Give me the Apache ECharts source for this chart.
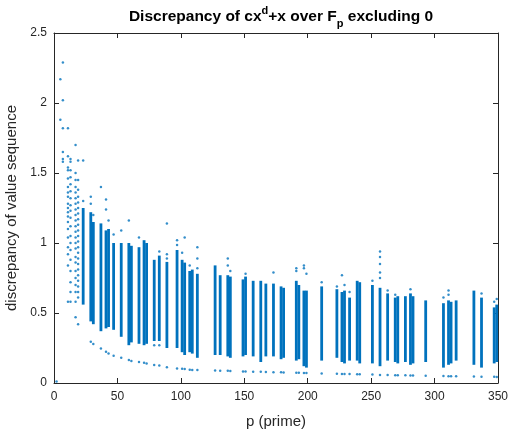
<!DOCTYPE html>
<html>
<head>
<meta charset="utf-8">
<script src="https://cdn.jsdelivr.net/npm/echarts@6/dist/echarts.min.js"></script>
<style>
  html, body { margin: 0; padding: 0; background: #fff; }
  #chart { width: 510px; height: 429px; }
</style>
</head>
<body>
<div id="chart"></div>
<script>
// primes that show a dense column of values: low / high end of the column
var colPrimes = [23,29,31,37,41,43,47,53,59,61,67,71,73,79,83,89,97,101,103,107,109,113,127,131,137,139,149,151,157,163,167,173,179,181,191,193,197,199,211,223,227,229,233,239,241,251,257,263,269,271,277,281,283,293,307,311,313,317,331,337,347,349];
var colLow = [0.56,0.44,0.42,0.37,0.39,0.40,0.38,0.33,0.27,0.29,0.28,0.27,0.28,0.30,0.30,0.25,0.25,0.22,0.20,0.22,0.21,0.18,0.20,0.20,0.19,0.18,0.19,0.20,0.19,0.15,0.19,0.19,0.17,0.18,0.16,0.17,0.12,0.11,0.16,0.18,0.15,0.14,0.16,0.16,0.14,0.14,0.12,0.16,0.15,0.14,0.15,0.13,0.14,0.15,0.11,0.13,0.14,0.16,0.13,0.11,0.14,0.15];
var colHigh = [1.25,1.22,1.15,1.14,1.09,1.10,1.00,1.00,1.00,0.98,0.97,1.02,1.00,0.88,0.91,0.865,0.95,0.88,0.86,0.80,0.81,0.78,0.84,0.77,0.77,0.76,0.74,0.76,0.73,0.73,0.71,0.71,0.69,0.68,0.73,0.70,0.66,0.66,0.69,0.67,0.65,0.66,0.61,0.73,0.72,0.70,0.68,0.64,0.61,0.62,0.62,0.64,0.62,0.59,0.57,0.59,0.58,0.59,0.66,0.61,0.54,0.56];

// lowest isolated value for each prime from 29 on
var lowPrimes = colPrimes.slice(1);
var lowVals = [0.295,0.278,0.247,0.223,0.21,0.195,0.18,0.165,0.157,0.15,0.145,0.14,0.128,0.125,0.112,0.104,0.102,0.100,0.095,0.093,0.092,0.09,0.088,0.087,0.086,0.083,0.082,0.08,0.08,0.078,0.077,0.076,0.075,0.073,0.073,0.072,0.072,0.068,0.066,0.065,0.065,0.064,0.063,0.062,0.06,0.058,0.057,0.056,0.056,0.055,0.054,0.054,0.052,0.05,0.049,0.049,0.048,0.046,0.045,0.044,0.043];

// loose points above / below the columns
var outP = [23,23,29,29,31,37,41,41,43,47,53,59,67,79,83,83,89,89,89,97,97,101,103,107,113,113,113,137,137,139,151,173,191,191,197,197,199,211,223,227,229,233,251,257,257,257,257,257,263,269,281,307,311,311,337,347,349];
var outV = [1.59,1.30,1.33,1.28,1.20,1.40,1.31,1.24,1.16,1.06,1.09,1.16,1.04,0.27,0.94,0.27,1.14,0.92,0.89,1.02,0.985,0.93,1.04,0.84,0.97,0.89,0.82,0.89,0.84,0.80,0.78,0.79,0.82,0.80,0.84,0.82,0.78,0.72,0.69,0.77,0.70,0.65,0.73,0.94,0.90,0.85,0.79,0.75,0.66,0.63,0.67,0.61,0.66,0.63,0.64,0.58,0.60];

// small primes: scattered values
var smallP = [2,5,5,7,7,7,7,7,7,
  11,11,11,11,11,11,11,11,11,11,11,11,11,11,11,11,11,11,11,
  13,13,13,13,13,13,13,13,13,13,13,13,13,13,13,13,13,13,13,
  17,17,17,17,17,17,17,17,17,17,17,17,17,17,17,17,17,17,17,17,17,17,17,
  19,19,19,19,19,19,19,19,19,19,19,19,19,19,19,19,19,19,19,19,19,19,19];
var smallV = [0.01,2.17,1.88,2.29,2.02,1.82,1.65,1.60,1.58,
  1.82,1.62,1.54,1.52,1.46,1.40,1.36,1.33,1.28,1.25,1.22,1.19,1.15,1.10,1.04,0.97,0.92,0.84,0.58,
  1.60,1.58,1.52,1.47,1.42,1.37,1.32,1.27,1.23,1.18,1.12,1.05,1.00,0.95,0.88,0.80,0.72,0.65,0.58,
  1.70,1.50,1.45,1.40,1.36,1.32,1.28,1.24,1.20,1.16,1.12,1.08,1.04,1.00,0.96,0.90,0.86,0.80,0.75,0.70,0.65,0.58,0.47,
  1.59,1.45,1.38,1.33,1.29,1.25,1.21,1.17,1.13,1.09,1.05,1.01,0.97,0.93,0.89,0.85,0.81,0.77,0.73,0.69,0.65,0.61,0.42];

var BLUE = '#0072BD';
var AXIS = '#262626';
var FONT = '"Liberation Sans", Arial, sans-serif';

var colData = colPrimes.map(function (p, i) { return [p, colLow[i], colHigh[i]]; });
var lowData = lowPrimes.map(function (p, i) { return [p, lowVals[i]]; });
var outData = outP.map(function (p, i) { return [p, outV[i]]; });
var smallData = smallP.map(function (p, i) { return [p, smallV[i]]; });

var chart = echarts.init(document.getElementById('chart'));

function xAx(pos, show) {
  return {
    type: 'value', position: pos, min: 0, max: 350, interval: 50,
    name: show ? 'p (prime)' : '', nameLocation: 'middle', nameGap: 31,
    nameTextStyle: { color: AXIS, fontSize: 15, fontFamily: FONT },
    axisLine: { show: true, onZero: false, lineStyle: { color: AXIS, width: 1 } },
    axisTick: { show: true, inside: true, length: 5, lineStyle: { color: AXIS } },
    axisLabel: { show: show, color: AXIS, fontSize: 12, fontFamily: FONT, margin: 8 },
    splitLine: { show: false }
  };
}
function yAx(pos, show) {
  return {
    type: 'value', position: pos, min: 0, max: 2.5, interval: 0.5,
    name: show ? 'discrepancy of value sequence' : '', nameLocation: 'middle', nameGap: 33,
    nameTextStyle: { color: AXIS, fontSize: 15, fontFamily: FONT },
    axisLine: { show: true, onZero: false, lineStyle: { color: AXIS, width: 1 } },
    axisTick: { show: true, inside: true, length: 5, lineStyle: { color: AXIS } },
    axisLabel: { show: show, color: AXIS, fontSize: 12, fontFamily: FONT, margin: 7 },
    splitLine: { show: false }
  };
}

chart.setOption({
  animation: false,
  title: {
    text: '{a|Discrepancy of cx}{sup|d}{a|+x over F}{sub|p}{a| excluding 0}',
    left: 276, textAlign: 'center', top: 0,
    textStyle: {
      rich: {
        a: { fontSize: 15.5, fontWeight: 'bold', color: '#000', fontFamily: FONT, lineHeight: 24, verticalAlign: 'middle' },
        sup: { fontSize: 11, fontWeight: 'bold', color: '#000', fontFamily: FONT, verticalAlign: 'top', lineHeight: 24, padding: [0, 0, 6, 0] },
        sub: { fontSize: 11, fontWeight: 'bold', color: '#000', fontFamily: FONT, verticalAlign: 'bottom', lineHeight: 24, padding: [8, 0, 0, 0] }
      }
    }
  },
  grid: { left: 54, right: 12, top: 33, bottom: 46, outerBoundsMode: 'none' },
  xAxis: [xAx('bottom', true), xAx('top', false)],
  yAxis: [yAx('left', true), yAx('right', false)],
  series: [
    {
      type: 'custom',
      data: colData,
      encode: { x: 0, y: [1, 2] },
      renderItem: function (params, api) {
        var top = api.coord([api.value(0), api.value(2)]);
        var bot = api.coord([api.value(0), api.value(1)]);
        return {
          type: 'rect',
          shape: { x: top[0] - 1.4, y: top[1], width: 2.8, height: bot[1] - top[1] },
          style: { fill: BLUE }
        };
      }
    },
    { type: 'scatter', data: smallData, symbolSize: 2.5, itemStyle: { color: BLUE } },
    { type: 'scatter', data: outData, symbolSize: 2.5, itemStyle: { color: BLUE } },
    { type: 'scatter', data: lowData, symbolSize: 2.5, itemStyle: { color: BLUE } }
  ]
});
</script>
</body>
</html>
